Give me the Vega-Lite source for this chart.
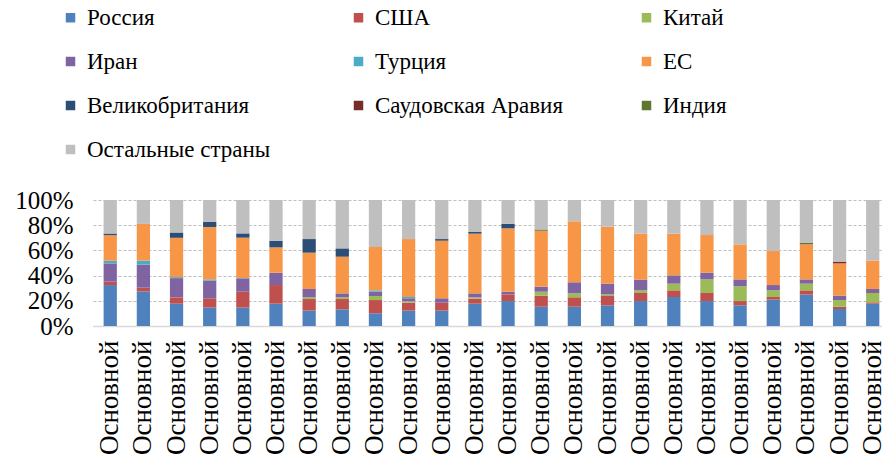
{
  "$schema": "https://vega.github.io/schema/vega-lite/v6.json",
  "autosize": {"type": "none"},
  "width": 789,
  "height": 126,
  "padding": {"left": 93, "top": 200, "right": 0, "bottom": 140},
  "background": "white",
  "config": {"view": {"stroke": null}, "font": "Liberation Serif", "legend": {"labelFont": "serif"}},
  "data": {"values": [
    {"id": 1, "Россия": 32.5, "США": 2.7, "Китай": 0, "Иран": 14.5, "Турция": 2.1, "ЕС": 20.3, "Великобритания": 1.3, "Саудовская Аравия": 0, "Индия": 0, "Остальные страны": 26.6},
    {"id": 2, "Россия": 27.5, "США": 2.9, "Китай": 0, "Иран": 18.3, "Турция": 3.2, "ЕС": 29.1, "Великобритания": 0, "Саудовская Аравия": 0, "Индия": 0, "Остальные страны": 19.0},
    {"id": 3, "Россия": 17.7, "США": 5.0, "Китай": 0, "Иран": 15.3, "Турция": 0.8, "ЕС": 31.2, "Великобритания": 4.2, "Саудовская Аравия": 0, "Индия": 0, "Остальные страны": 25.8},
    {"id": 4, "Россия": 14.6, "США": 7.4, "Китай": 0, "Иран": 14.0, "Турция": 1.0, "ЕС": 41.6, "Великобритания": 4.2, "Саудовская Аравия": 0, "Индия": 0, "Остальные страны": 17.2},
    {"id": 5, "Россия": 14.6, "США": 12.6, "Китай": 0, "Иран": 10.6, "Турция": 0.3, "ЕС": 32.0, "Великобритания": 3.4, "Саудовская Аравия": 0, "Индия": 0, "Остальные страны": 26.5},
    {"id": 6, "Россия": 17.7, "США": 14.8, "Китай": 0, "Иран": 9.8, "Турция": 0, "ЕС": 20.1, "Великобритания": 5.3, "Саудовская Аравия": 0, "Индия": 0, "Остальные страны": 32.3},
    {"id": 7, "Россия": 12.2, "США": 9.2, "Китай": 1.4, "Иран": 6.6, "Турция": 0, "ЕС": 28.8, "Великобритания": 10.8, "Саудовская Аравия": 0, "Индия": 0, "Остальные страны": 31.0},
    {"id": 8, "Россия": 13.2, "США": 8.2, "Китай": 1.4, "Иран": 3.1, "Турция": 0, "ЕС": 29.1, "Великобритания": 6.6, "Саудовская Аравия": 0, "Индия": 0, "Остальные страны": 38.4},
    {"id": 9, "Россия": 10.1, "США": 10.5, "Китай": 3.2, "Иран": 3.4, "Турция": 1.1, "ЕС": 34.4, "Великобритания": 0, "Саудовская Аравия": 0, "Индия": 0, "Остальные страны": 37.3},
    {"id": 10, "Россия": 12.2, "США": 6.3, "Китай": 1.1, "Иран": 2.4, "Турция": 1.0, "ЕС": 46.0, "Великобритания": 0, "Саудовская Аравия": 0, "Индия": 0, "Остальные страны": 31.0},
    {"id": 11, "Россия": 12.2, "США": 6.3, "Китай": 0, "Иран": 3.5, "Турция": 0, "ЕС": 45.7, "Великобритания": 1.3, "Саудовская Аравия": 0, "Индия": 0, "Остальные страны": 31.0},
    {"id": 12, "Россия": 17.7, "США": 4.0, "Китай": 1.1, "Иран": 3.1, "Турция": 0, "ЕС": 47.4, "Великобритания": 1.3, "Саудовская Аравия": 0, "Индия": 0, "Остальные страны": 25.4},
    {"id": 13, "Россия": 19.8, "США": 5.3, "Китай": 0, "Иран": 2.1, "Турция": 0, "ЕС": 50.3, "Великобритания": 3.5, "Саудовская Аравия": 0, "Индия": 0, "Остальные страны": 19.0},
    {"id": 14, "Россия": 15.3, "США": 8.7, "Китай": 3.2, "Иран": 4.0, "Турция": 0, "ЕС": 44.4, "Великобритания": 0, "Саудовская Аравия": 0, "Индия": 1.0, "Остальные страны": 23.4},
    {"id": 15, "Россия": 15.3, "США": 7.5, "Китай": 3.2, "Иран": 8.7, "Турция": 0, "ЕС": 48.4, "Великобритания": 0, "Саудовская Аравия": 0, "Индия": 0, "Остальные страны": 16.9},
    {"id": 16, "Россия": 16.4, "США": 7.4, "Китай": 1.3, "Иран": 8.5, "Турция": 0, "ЕС": 45.2, "Великобритания": 0, "Саудовская Аравия": 0, "Индия": 0, "Остальные страны": 21.2},
    {"id": 17, "Россия": 19.8, "США": 6.4, "Китай": 2.1, "Иран": 8.5, "Турция": 0, "ЕС": 36.5, "Великобритания": 0, "Саудовская Аравия": 0, "Индия": 0, "Остальные страны": 26.7},
    {"id": 18, "Россия": 23.0, "США": 5.3, "Китай": 5.3, "Иран": 6.6, "Турция": 0, "ЕС": 33.1, "Великобритания": 0, "Саудовская Аравия": 0, "Индия": 0, "Остальные страны": 26.7},
    {"id": 19, "Россия": 19.8, "США": 6.4, "Китай": 10.8, "Иран": 5.3, "Турция": 0, "ЕС": 29.9, "Великобритания": 0, "Саудовская Аравия": 0, "Индия": 0, "Остальные страны": 27.8},
    {"id": 20, "Россия": 16.4, "США": 3.4, "Китай": 11.7, "Иран": 5.5, "Турция": 0, "ЕС": 27.8, "Великобритания": 0, "Саудовская Аравия": 0, "Индия": 0, "Остальные страны": 35.2},
    {"id": 21, "Россия": 20.9, "США": 2.1, "Китай": 5.3, "Иран": 4.2, "Турция": 0, "ЕС": 27.0, "Великобритания": 0, "Саудовская Аравия": 0, "Индия": 0, "Остальные страны": 40.5},
    {"id": 22, "Россия": 24.9, "США": 3.4, "Китай": 5.3, "Иран": 3.4, "Турция": 0, "ЕС": 27.8, "Великобритания": 0, "Саудовская Аравия": 0, "Индия": 1.1, "Остальные страны": 34.1},
    {"id": 23, "Россия": 13.5, "США": 1.8, "Китай": 5.3, "Иран": 3.5, "Турция": 0, "ЕС": 25.6, "Великобритания": 0, "Саудовская Аравия": 1.4, "Индия": 0, "Остальные страны": 48.9},
    {"id": 24, "Россия": 17.7, "США": 1.1, "Китай": 7.4, "Иран": 3.2, "Турция": 0, "ЕС": 22.5, "Великобритания": 0, "Саудовская Аравия": 0, "Индия": 0, "Остальные страны": 48.1}
  ]},
  "transform": [
    {"fold": ["Россия", "США", "Китай", "Иран", "Турция", "ЕС", "Великобритания", "Саудовская Аравия", "Индия", "Остальные страны"], "as": ["country", "value"]},
    {"window": [{"op": "row_number", "as": "rank"}], "groupby": ["id"]}
  ],
  "mark": {"type": "bar"},
  "encoding": {
    "x": {
      "field": "id", "type": "ordinal",
      "scale": {"paddingInner": 0.6, "paddingOuter": 0.2, "align": 0.8},
      "axis": {"title": null, "labelExpr": "'Основной'", "labelAngle": -90, "labelFontSize": 27, "labelColor": "#000000", "labelPadding": 14, "ticks": false, "domainColor": "#D9D9D9", "domainWidth": 1.5, "labelFont": "Liberation Serif"}
    },
    "y": {
      "field": "value", "type": "quantitative", "stack": "normalize",
      "scale": {"domain": [0, 1]},
      "axis": {"title": null, "format": ".0%", "values": [0, 0.2, 0.4, 0.6, 0.8, 1], "labelFontSize": 25, "labelColor": "#000000", "labelPadding": 20, "ticks": false, "domain": false, "gridColor": "#BFBFBF", "gridDash": [3, 2], "labelFont": "Liberation Serif"}
    },
    "color": {
      "field": "country", "type": "nominal",
      "scale": {
        "domain": ["Россия", "США", "Китай", "Иран", "Турция", "ЕС", "Великобритания", "Саудовская Аравия", "Индия", "Остальные страны"],
        "range": ["#4F81BD", "#C0504D", "#9BBB59", "#8064A2", "#4BACC6", "#F79646", "#2C4D75", "#772C2A", "#5F7530", "#BFBFBF"]
      },
      "legend": {
        "title": null, "orient": "none", "legendX": -34, "legendY": -194,
        "direction": "horizontal", "columns": 3, "gridAlign": "all",
        "columnPadding": 72, "rowPadding": 20,
        "symbolType": "square", "symbolSize": 90, "symbolStrokeWidth": 0, "symbolOffset": 0,
        "labelFontSize": 23, "labelFont": "serif", "labelColor": "#000000", "labelOffset": 5, "labelLimit": 400
      }
    },
    "order": {"field": "rank", "type": "quantitative", "sort": "ascending"}
  }
}
